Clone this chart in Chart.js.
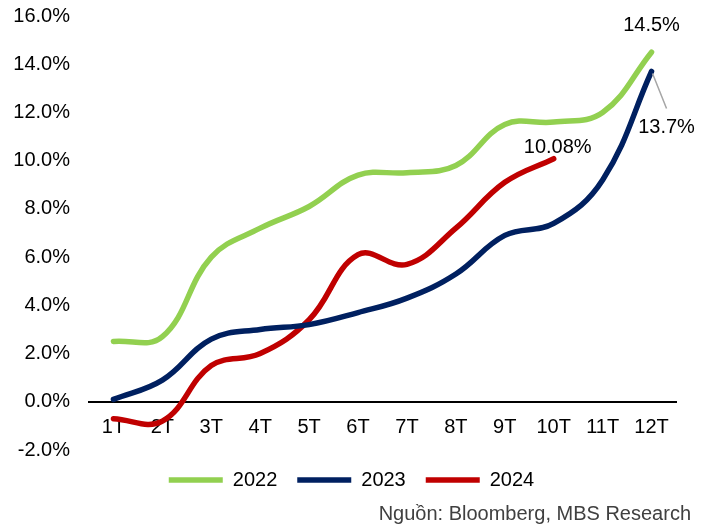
<!DOCTYPE html>
<html>
<head>
<meta charset="utf-8">
<script src="https://cdn.jsdelivr.net/npm/chart.js@4/dist/chart.umd.min.js"></script>
<style>
  html, body { margin: 0; padding: 0; background: #fff; }
  #wrap { width: 713px; height: 528px; }
</style>
</head>
<body>
<div id="wrap"><canvas id="c"></canvas></div>
<script>
const months = ['1T','2T','3T','4T','5T','6T','7T','8T','9T','10T','11T','12T'];
const seriesNames = ['2022','2023','2024'];
const values2022 = [2.5, 2.7, 6.0, 7.2, 8.1, 9.4, 9.5, 9.8, 11.5, 11.6, 12.0, 14.5];
const values2023 = [0.1, 0.9, 2.6, 3.0, 3.2, 3.7, 4.3, 5.3, 6.9, 7.4, 9.2, 13.7];
const values2024 = [-0.7, -0.8, 1.5, 2.0, 3.4, 6.1, 5.7, 7.2, 9.1, 10.08];
const endLabels = ['14.5%', '13.7%', '10.08%'];
const yTicks = [-2, 0, 2, 4, 6, 8, 10, 12, 14, 16];
const sourceText = 'Nguồn: Bloomberg, MBS Research';

const colors = ['#92D050', '#002060', '#C00000'];
const FONT = 'Arial, "Liberation Sans", sans-serif';

const endLabelPlugin = {
  id: 'endLabels',
  afterDatasetsDraw(chart) {
    const ctx = chart.ctx;
    ctx.save();
    ctx.font = '20px ' + FONT;
    ctx.fillStyle = '#000';
    ctx.textAlign = 'center';
    ctx.textBaseline = 'middle';
    let m = chart.getDatasetMeta(0).data;
    let p = m[m.length - 1];
    ctx.fillText(endLabels[0], p.x, p.y - 27);
    m = chart.getDatasetMeta(1).data;
    p = m[m.length - 1];
    ctx.strokeStyle = '#A6A6A6';
    ctx.lineWidth = 1.5;
    ctx.beginPath();
    ctx.moveTo(p.x + 1, p.y + 2);
    ctx.lineTo(p.x + 15, p.y + 37);
    ctx.stroke();
    ctx.fillText(endLabels[1], p.x + 15, p.y + 56);
    m = chart.getDatasetMeta(2).data;
    p = m[m.length - 1];
    ctx.fillText(endLabels[2], p.x + 4, p.y - 11);
    ctx.restore();
  }
};

new Chart(document.getElementById('c'), {
  type: 'line',
  data: {
    labels: months,
    datasets: [values2022, values2023, values2024].map((vals, i) => ({
      label: seriesNames[i],
      data: vals,
      borderColor: colors[i],
      backgroundColor: colors[i],
      borderWidth: 5.5,
      borderCapStyle: 'round',
      borderJoinStyle: 'round',
      pointRadius: 0,
      pointHoverRadius: 0,
      pointStyle: 'line',
      tension: 0.4,
      fill: false
    }))
  },
  options: {
    responsive: true,
    maintainAspectRatio: false,
    animation: false,
    events: [],
    layout: { padding: { top: 16, left: 12, right: 22, bottom: 0 } },
    scales: {
      x: {
        position: { y: 0 },
        offset: true,
        grid: { display: false, drawTicks: false },
        border: { display: true, color: '#000', width: 2 },
        ticks: { color: '#000', font: { size: 20, family: FONT }, padding: 14, maxRotation: 0, autoSkip: false }
      },
      y: {
        min: -2,
        max: 16,
        afterBuildTicks: s => { s.ticks = yTicks.map(v => ({ value: v })); },
        afterFit: s => { s.width = 77; s.paddingTop = 0; s.paddingBottom = 0; },
        grid: { display: false, drawTicks: false },
        border: { display: false },
        ticks: {
          color: '#000',
          font: { size: 20, family: FONT },
          padding: 19,
          callback: v => v.toFixed(1) + '%'
        }
      },
      yr: {
        position: 'right',
        display: true,
        grid: { display: false, drawTicks: false },
        border: { display: false },
        ticks: { display: false },
        afterFit: s => { s.width = 15; s.paddingTop = 0; s.paddingBottom = 0; }
      }
    },
    plugins: {
      legend: {
        position: 'bottom',
        labels: {
          usePointStyle: true,
          pointStyle: 'line',
          pointStyleWidth: 54,
          boxHeight: 20,
          color: '#000',
          font: { size: 20, family: FONT },
          padding: 20
        }
      },
      subtitle: {
        display: true,
        text: sourceText,
        position: 'bottom',
        align: 'end',
        color: '#404040',
        font: { size: 20, family: FONT, weight: 'normal' },
        padding: { top: 2, bottom: 2 }
      },
      tooltip: { enabled: false }
    }
  },
  plugins: [endLabelPlugin]
});
</script>
</body>
</html>
